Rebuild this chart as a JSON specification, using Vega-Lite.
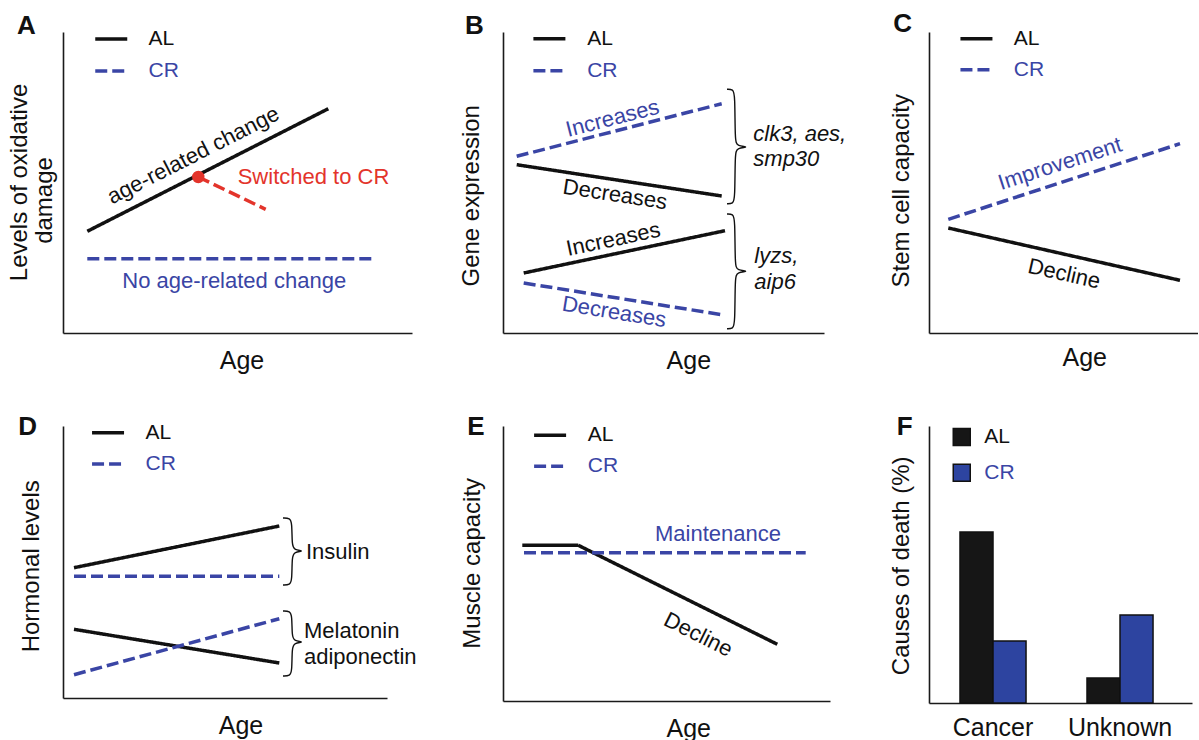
{
  "$schema": "https://vega.github.io/schema/vega-lite/v6.json",
  "padding": {"left": 7, "top": 11, "right": 0, "bottom": 0},
  "background": "white",
  "columns": 3,
  "bounds": "flush",
  "spacing": {"row": 93, "column": 60},
  "resolve": {
    "scale": {"color": "independent", "strokeDash": "independent"},
    "legend": {"color": "independent", "strokeDash": "independent"}
  },
  "config": {
    "font": "Liberation Sans",
    "view": {"stroke": null},
    "axis": {"grid": false, "ticks": false, "tickSize": 0, "labels": false, "domainColor": "#1a1a1a", "domainWidth": 1.6, "titleFontWeight": "normal", "titleColor": "#111111", "titleFont": "Liberation Sans"},
    "legend": {"labelFont": "Liberation Sans", "padding": 0}
  },
  "concat": [
    {
      "width": 380, "height": 301,
      "encoding": {
        "x": {"field": "x", "type": "quantitative", "scale": {"domain": [0, 349], "range": [0, 349], "nice": false, "zero": false},
              "axis": {"title": "Age", "titleFontSize": 25, "titleX": 178.5, "titleY": 35.7, "titleAlign": "center", "titleBaseline": "alphabetic", "titleAngle": 0}},
        "y": {"field": "y", "type": "quantitative", "scale": {"domain": [0, 301], "nice": false, "zero": false},
              "axis": {"title": "Levels of oxidative", "titleFontSize": 24, "titleX": -36.5, "titleY": 150, "titleAlign": "center", "titleBaseline": "alphabetic", "titleAngle": 270}}
      },
      "layer": [
        {
          "data": {"values": [
            {"diet": "AL", "seg": "a1", "x": 24.3, "y": 101.7}, {"diet": "AL", "seg": "a1", "x": 265.3, "y": 224.3},
            {"diet": "CR", "seg": "c1", "x": 24.3, "y": 74.3}, {"diet": "CR", "seg": "c1", "x": 308.7, "y": 74.3},
            {"diet": "Switched", "seg": "s1", "x": 135.3, "y": 156}, {"diet": "Switched", "seg": "s1", "x": 202.7, "y": 123.7}
          ]},
          "mark": {"type": "line", "strokeWidth": 3.5, "strokeCap": "butt"},
          "encoding": {
            "detail": {"field": "seg"},
            "color": {"field": "diet", "type": "nominal", "scale": {"domain": ["AL", "CR", "Switched"], "range": ["#111111", "#3a45a5", "#e3342b"]},
                      "legend": {"title": null, "orient": "none", "legendX": 30.25, "legendY": -3.5, "values": ["AL", "CR"], "symbolType": "stroke", "symbolSize": 1024, "symbolStrokeWidth": 3.5, "labelFontSize": 21, "labelOffset": 19.25, "rowPadding": 10, "clipHeight": 21, "labelColor": {"expr": "datum.value === 'CR' ? '#3a45a5' : '#111111'"}}},
            "strokeDash": {"field": "diet", "type": "nominal", "scale": {"domain": ["AL", "CR", "Switched"], "range": [[1, 0], [12, 5], [12, 5]]},
                      "legend": {"title": null, "orient": "none", "legendX": 30.25, "legendY": -3.5, "values": ["AL", "CR"], "symbolType": "stroke", "symbolSize": 1024, "symbolStrokeWidth": 3.5, "labelFontSize": 21, "labelOffset": 19.25, "rowPadding": 10, "clipHeight": 21, "labelColor": {"expr": "datum.value === 'CR' ? '#3a45a5' : '#111111'"}}}
          }
        },
        {
          "data": {"values": [{"event": "Switched to CR", "x": 135.3, "y": 156}]},
          "mark": {"type": "circle", "size": 154, "color": "#e3342b", "opacity": 1}
        },
        {
          "data": {"values": [{"label": "age-related change", "x": 130.3, "y": 177.7}]},
          "mark": {"type": "text", "fontSize": 22, "angle": 333, "align": "center", "baseline": "middle", "color": "#111111"},
          "encoding": {"text": {"field": "label"}}
        },
        {
          "data": {"values": [{"label": "Switched to CR", "x": 174.7, "y": 149.3}]},
          "mark": {"type": "text", "fontSize": 22, "align": "left", "baseline": "alphabetic", "color": "#e3342b"},
          "encoding": {"text": {"field": "label"}}
        },
        {
          "data": {"values": [{"label": "No age-related change", "x": 171.2, "y": 45.3}]},
          "mark": {"type": "text", "fontSize": 22, "align": "center", "baseline": "alphabetic", "color": "#3a45a5"},
          "encoding": {"text": {"field": "label"}}
        },
        {
          "data": {"values": [{"label": "damage", "x": -11.5, "y": 132.5}]},
          "mark": {"type": "text", "fontSize": 24, "angle": 270, "align": "center", "baseline": "alphabetic", "color": "#111111"},
          "encoding": {"text": {"field": "label"}}
        },
        {
          "data": {"values": [{"label": "A", "x": -46, "y": 299}]},
          "mark": {"type": "text", "fontSize": 26, "fontWeight": "bold", "align": "left", "baseline": "alphabetic", "color": "#111111"},
          "encoding": {"text": {"field": "label"}}
        }
      ]
    },
    {
      "width": 366, "height": 301,
      "encoding": {
        "x": {"field": "x", "type": "quantitative", "scale": {"domain": [0, 321], "range": [0, 321], "nice": false, "zero": false},
              "axis": {"title": "Age", "titleFontSize": 25, "titleX": 185.3, "titleY": 35, "titleAlign": "center", "titleBaseline": "alphabetic", "titleAngle": 0}},
        "y": {"field": "y", "type": "quantitative", "scale": {"domain": [0, 301], "nice": false, "zero": false},
              "axis": {"title": "Gene expression", "titleFontSize": 24, "titleX": -24.1, "titleY": 163.3, "titleAlign": "center", "titleBaseline": "alphabetic", "titleAngle": 270}}
      },
      "layer": [
        {
          "data": {"values": [
            {"diet": "CR", "seg": "c1", "x": 13.7, "y": 176.7}, {"diet": "CR", "seg": "c1", "x": 218.7, "y": 229.3},
            {"diet": "AL", "seg": "a1", "x": 13.7, "y": 168.3}, {"diet": "AL", "seg": "a1", "x": 218.7, "y": 137},
            {"diet": "AL", "seg": "a2", "x": 20.7, "y": 60}, {"diet": "AL", "seg": "a2", "x": 222, "y": 102.3},
            {"diet": "CR", "seg": "c2", "x": 20.7, "y": 50}, {"diet": "CR", "seg": "c2", "x": 218.7, "y": 18.3}
          ]},
          "mark": {"type": "line", "strokeWidth": 3.5, "strokeCap": "butt"},
          "encoding": {
            "detail": {"field": "seg"},
            "color": {"field": "diet", "type": "nominal", "scale": {"domain": ["AL", "CR"], "range": ["#111111", "#3a45a5"]},
                      "legend": {"title": null, "orient": "none", "legendX": 28.4, "legendY": -3.8, "values": ["AL", "CR"], "symbolType": "stroke", "symbolSize": 1024, "symbolStrokeWidth": 3.5, "labelFontSize": 21, "labelOffset": 19.8, "rowPadding": 10, "clipHeight": 21, "labelColor": {"expr": "datum.value === 'CR' ? '#3a45a5' : '#111111'"}}},
            "strokeDash": {"field": "diet", "type": "nominal", "scale": {"domain": ["AL", "CR"], "range": [[1, 0], [12, 5]]},
                      "legend": {"title": null, "orient": "none", "legendX": 28.4, "legendY": -3.8, "values": ["AL", "CR"], "symbolType": "stroke", "symbolSize": 1024, "symbolStrokeWidth": 3.5, "labelFontSize": 21, "labelOffset": 19.8, "rowPadding": 10, "clipHeight": 21, "labelColor": {"expr": "datum.value === 'CR' ? '#3a45a5' : '#111111'"}}}
          }
        },
        {
          "data": {"values": [
            {"brace": "upper", "i": 1, "x": 224, "y": 243.7}, {"brace": "upper", "i": 2, "x": 230, "y": 243.7}, {"brace": "upper", "i": 3, "x": 232, "y": 238.7},
            {"brace": "upper", "i": 4, "x": 232, "y": 192}, {"brace": "upper", "i": 5, "x": 234, "y": 187}, {"brace": "upper", "i": 6, "x": 247, "y": 186},
            {"brace": "upper", "i": 7, "x": 234, "y": 185}, {"brace": "upper", "i": 8, "x": 232, "y": 180}, {"brace": "upper", "i": 9, "x": 232, "y": 134.3},
            {"brace": "upper", "i": 10, "x": 230, "y": 129.3}, {"brace": "upper", "i": 11, "x": 224, "y": 129.3},
            {"brace": "lower", "i": 1, "x": 224, "y": 119}, {"brace": "lower", "i": 2, "x": 230, "y": 119}, {"brace": "lower", "i": 3, "x": 232, "y": 114},
            {"brace": "lower", "i": 4, "x": 232, "y": 67.7}, {"brace": "lower", "i": 5, "x": 234, "y": 62.7}, {"brace": "lower", "i": 6, "x": 247, "y": 61.7},
            {"brace": "lower", "i": 7, "x": 234, "y": 60.7}, {"brace": "lower", "i": 8, "x": 232, "y": 55.7}, {"brace": "lower", "i": 9, "x": 232, "y": 9.3},
            {"brace": "lower", "i": 10, "x": 230, "y": 4.3}, {"brace": "lower", "i": 11, "x": 224, "y": 4.3}
          ]},
          "mark": {"type": "line", "strokeWidth": 1.4, "color": "#111111", "interpolate": "basis"},
          "encoding": {"detail": {"field": "brace"}, "order": {"field": "i", "type": "quantitative"}}
        },
        {
          "data": {"values": [{"label": "Increases", "x": 109.5, "y": 214.7}]},
          "mark": {"type": "text", "fontSize": 22, "angle": 345.6, "align": "center", "baseline": "middle", "color": "#3a45a5"},
          "encoding": {"text": {"field": "label"}}
        },
        {
          "data": {"values": [{"label": "Decreases", "x": 112, "y": 138.5}]},
          "mark": {"type": "text", "fontSize": 22, "angle": 8.7, "align": "center", "baseline": "middle", "color": "#111111"},
          "encoding": {"text": {"field": "label"}}
        },
        {
          "data": {"values": [{"label": "Increases", "x": 110.3, "y": 93.7}]},
          "mark": {"type": "text", "fontSize": 22, "angle": 348, "align": "center", "baseline": "middle", "color": "#111111"},
          "encoding": {"text": {"field": "label"}}
        },
        {
          "data": {"values": [{"label": "Decreases", "x": 111.2, "y": 21}]},
          "mark": {"type": "text", "fontSize": 22, "angle": 9.2, "align": "center", "baseline": "middle", "color": "#3a45a5"},
          "encoding": {"text": {"field": "label"}}
        },
        {
          "data": {"values": [
            {"label": "clk3, aes,", "x": 250.3, "y": 192},
            {"label": "smp30", "x": 250.3, "y": 167},
            {"label": "lyzs,", "x": 251.3, "y": 70},
            {"label": "aip6", "x": 251.3, "y": 44}
          ]},
          "mark": {"type": "text", "fontSize": 22, "fontStyle": "italic", "align": "left", "baseline": "alphabetic", "color": "#111111"},
          "encoding": {"text": {"field": "label"}}
        },
        {
          "data": {"values": [{"label": "B", "x": -38, "y": 299.3}]},
          "mark": {"type": "text", "fontSize": 26, "fontWeight": "bold", "align": "left", "baseline": "alphabetic", "color": "#111111"},
          "encoding": {"text": {"field": "label"}}
        }
      ]
    },
    {
      "width": 269, "height": 301,
      "encoding": {
        "x": {"field": "x", "type": "quantitative", "scale": {"domain": [0, 269], "nice": false, "zero": false},
              "axis": {"title": "Age", "titleFontSize": 25, "titleX": 155.2, "titleY": 32, "titleAlign": "center", "titleBaseline": "alphabetic", "titleAngle": 0}},
        "y": {"field": "y", "type": "quantitative", "scale": {"domain": [0, 301], "nice": false, "zero": false},
              "axis": {"title": "Stem cell capacity", "titleFontSize": 24, "titleX": -20.1, "titleY": 158.3, "titleAlign": "center", "titleBaseline": "alphabetic", "titleAngle": 270}}
      },
      "layer": [
        {
          "data": {"values": [
            {"diet": "CR", "seg": "c1", "x": 19.3, "y": 113.7}, {"diet": "CR", "seg": "c1", "x": 251, "y": 189.3},
            {"diet": "AL", "seg": "a1", "x": 19.3, "y": 105}, {"diet": "AL", "seg": "a1", "x": 251, "y": 52.7}
          ]},
          "mark": {"type": "line", "strokeWidth": 3.5, "strokeCap": "butt"},
          "encoding": {
            "detail": {"field": "seg"},
            "color": {"field": "diet", "type": "nominal", "scale": {"domain": ["AL", "CR"], "range": ["#111111", "#3a45a5"]},
                      "legend": {"title": null, "orient": "none", "legendX": 29.45, "legendY": -3.8, "values": ["AL", "CR"], "symbolType": "stroke", "symbolSize": 1024, "symbolStrokeWidth": 3.5, "labelFontSize": 21, "labelOffset": 19.35, "rowPadding": 9, "clipHeight": 21, "labelColor": {"expr": "datum.value === 'CR' ? '#3a45a5' : '#111111'"}}},
            "strokeDash": {"field": "diet", "type": "nominal", "scale": {"domain": ["AL", "CR"], "range": [[1, 0], [12, 5]]},
                      "legend": {"title": null, "orient": "none", "legendX": 29.45, "legendY": -3.8, "values": ["AL", "CR"], "symbolType": "stroke", "symbolSize": 1024, "symbolStrokeWidth": 3.5, "labelFontSize": 21, "labelOffset": 19.35, "rowPadding": 9, "clipHeight": 21, "labelColor": {"expr": "datum.value === 'CR' ? '#3a45a5' : '#111111'"}}}
          }
        },
        {
          "data": {"values": [{"label": "Improvement", "x": 131, "y": 169.3}]},
          "mark": {"type": "text", "fontSize": 22, "angle": 342, "align": "center", "baseline": "middle", "color": "#3a45a5"},
          "encoding": {"text": {"field": "label"}}
        },
        {
          "data": {"values": [{"label": "Decline", "x": 135.2, "y": 59.3}]},
          "mark": {"type": "text", "fontSize": 22, "angle": 12.7, "align": "center", "baseline": "middle", "color": "#111111"},
          "encoding": {"text": {"field": "label"}}
        },
        {
          "data": {"values": [{"label": "C", "x": -35.7, "y": 301}]},
          "mark": {"type": "text", "fontSize": 26, "fontWeight": "bold", "align": "left", "baseline": "alphabetic", "color": "#111111"},
          "encoding": {"text": {"field": "label"}}
        }
      ]
    },
    {
      "width": 380, "height": 272,
      "encoding": {
        "x": {"field": "x", "type": "quantitative", "scale": {"domain": [0, 324], "range": [0, 324], "nice": false, "zero": false},
              "axis": {"title": "Age", "titleFontSize": 25, "titleX": 177.5, "titleY": 35.2, "titleAlign": "center", "titleBaseline": "alphabetic", "titleAngle": 0}},
        "y": {"field": "y", "type": "quantitative", "scale": {"domain": [0, 272], "nice": false, "zero": false},
              "axis": {"title": "Hormonal levels", "titleFontSize": 24, "titleX": -24.1, "titleY": 139.8, "titleAlign": "center", "titleBaseline": "alphabetic", "titleAngle": 270}}
      },
      "layer": [
        {
          "data": {"values": [
            {"diet": "AL", "seg": "a1", "x": 11, "y": 130.3}, {"diet": "AL", "seg": "a1", "x": 216.3, "y": 172},
            {"diet": "CR", "seg": "c1", "x": 11, "y": 121.7}, {"diet": "CR", "seg": "c1", "x": 216.3, "y": 121.7},
            {"diet": "AL", "seg": "a2", "x": 11, "y": 68.7}, {"diet": "AL", "seg": "a2", "x": 216.3, "y": 35},
            {"diet": "CR", "seg": "c2", "x": 11, "y": 23.3}, {"diet": "CR", "seg": "c2", "x": 216.3, "y": 79.3}
          ]},
          "mark": {"type": "line", "strokeWidth": 3.5, "strokeCap": "butt"},
          "encoding": {
            "detail": {"field": "seg"},
            "color": {"field": "diet", "type": "nominal", "scale": {"domain": ["AL", "CR"], "range": ["#111111", "#3a45a5"]},
                      "legend": {"title": null, "orient": "none", "legendX": 27.05, "legendY": -3.8, "values": ["AL", "CR"], "symbolType": "stroke", "symbolSize": 1024, "symbolStrokeWidth": 3.5, "labelFontSize": 21, "labelOffset": 19.45, "rowPadding": 9.3, "clipHeight": 21, "labelColor": {"expr": "datum.value === 'CR' ? '#3a45a5' : '#111111'"}}},
            "strokeDash": {"field": "diet", "type": "nominal", "scale": {"domain": ["AL", "CR"], "range": [[1, 0], [12, 5]]},
                      "legend": {"title": null, "orient": "none", "legendX": 27.05, "legendY": -3.8, "values": ["AL", "CR"], "symbolType": "stroke", "symbolSize": 1024, "symbolStrokeWidth": 3.5, "labelFontSize": 21, "labelOffset": 19.45, "rowPadding": 9.3, "clipHeight": 21, "labelColor": {"expr": "datum.value === 'CR' ? '#3a45a5' : '#111111'"}}}
          }
        },
        {
          "data": {"values": [
            {"brace": "insulin", "i": 1, "x": 220, "y": 180}, {"brace": "insulin", "i": 2, "x": 227, "y": 180}, {"brace": "insulin", "i": 3, "x": 229, "y": 175},
            {"brace": "insulin", "i": 4, "x": 229, "y": 153}, {"brace": "insulin", "i": 5, "x": 231, "y": 148}, {"brace": "insulin", "i": 6, "x": 242, "y": 147},
            {"brace": "insulin", "i": 7, "x": 231, "y": 146}, {"brace": "insulin", "i": 8, "x": 229, "y": 141}, {"brace": "insulin", "i": 9, "x": 229, "y": 118},
            {"brace": "insulin", "i": 10, "x": 227, "y": 113}, {"brace": "insulin", "i": 11, "x": 220, "y": 113},
            {"brace": "melatonin", "i": 1, "x": 220, "y": 87}, {"brace": "melatonin", "i": 2, "x": 227, "y": 87}, {"brace": "melatonin", "i": 3, "x": 229, "y": 82},
            {"brace": "melatonin", "i": 4, "x": 229, "y": 62}, {"brace": "melatonin", "i": 5, "x": 231, "y": 57}, {"brace": "melatonin", "i": 6, "x": 242, "y": 56},
            {"brace": "melatonin", "i": 7, "x": 231, "y": 55}, {"brace": "melatonin", "i": 8, "x": 229, "y": 50}, {"brace": "melatonin", "i": 9, "x": 229, "y": 27},
            {"brace": "melatonin", "i": 10, "x": 227, "y": 22}, {"brace": "melatonin", "i": 11, "x": 220, "y": 22}
          ]},
          "mark": {"type": "line", "strokeWidth": 1.4, "color": "#111111", "interpolate": "basis"},
          "encoding": {"detail": {"field": "brace"}, "order": {"field": "i", "type": "quantitative"}}
        },
        {
          "data": {"values": [
            {"label": "Insulin", "x": 243, "y": 138.6},
            {"label": "Melatonin", "x": 241, "y": 59.6},
            {"label": "adiponectin", "x": 241, "y": 33.6}
          ]},
          "mark": {"type": "text", "fontSize": 22, "align": "left", "baseline": "alphabetic", "color": "#111111"},
          "encoding": {"text": {"field": "label"}}
        },
        {
          "data": {"values": [{"label": "D", "x": -44.7, "y": 262.7}]},
          "mark": {"type": "text", "fontSize": 26, "fontWeight": "bold", "align": "left", "baseline": "alphabetic", "color": "#111111"},
          "encoding": {"text": {"field": "label"}}
        }
      ]
    },
    {
      "width": 366, "height": 275,
      "encoding": {
        "x": {"field": "x", "type": "quantitative", "scale": {"domain": [0, 327], "range": [0, 327], "nice": false, "zero": false},
              "axis": {"title": "Age", "titleFontSize": 25, "titleX": 185.2, "titleY": 35.6, "titleAlign": "center", "titleBaseline": "alphabetic", "titleAngle": 0}},
        "y": {"field": "y", "type": "quantitative", "scale": {"domain": [0, 275], "nice": false, "zero": false},
              "axis": {"title": "Muscle capacity", "titleFontSize": 24, "titleX": -23.5, "titleY": 136.8, "titleAlign": "center", "titleBaseline": "alphabetic", "titleAngle": 270}}
      },
      "layer": [
        {
          "data": {"values": [
            {"diet": "AL", "seg": "a1", "x": 19.3, "y": 155.7}, {"diet": "AL", "seg": "a1", "x": 75.3, "y": 155.7}, {"diet": "AL", "seg": "a1", "x": 274.3, "y": 56.7},
            {"diet": "CR", "seg": "c1", "x": 21, "y": 148.3}, {"diet": "CR", "seg": "c1", "x": 302.7, "y": 148.3}
          ]},
          "mark": {"type": "line", "strokeWidth": 3.5, "strokeCap": "butt"},
          "encoding": {
            "detail": {"field": "seg"},
            "color": {"field": "diet", "type": "nominal", "scale": {"domain": ["AL", "CR"], "range": ["#111111", "#3a45a5"]},
                      "legend": {"title": null, "orient": "none", "legendX": 29.1, "legendY": -1.2, "values": ["AL", "CR"], "symbolType": "stroke", "symbolSize": 1024, "symbolStrokeWidth": 3.5, "labelFontSize": 21, "labelOffset": 19.7, "rowPadding": 9, "clipHeight": 21, "labelColor": {"expr": "datum.value === 'CR' ? '#3a45a5' : '#111111'"}}},
            "strokeDash": {"field": "diet", "type": "nominal", "scale": {"domain": ["AL", "CR"], "range": [[1, 0], [12, 5]]},
                      "legend": {"title": null, "orient": "none", "legendX": 29.1, "legendY": -1.2, "values": ["AL", "CR"], "symbolType": "stroke", "symbolSize": 1024, "symbolStrokeWidth": 3.5, "labelFontSize": 21, "labelOffset": 19.7, "rowPadding": 9, "clipHeight": 21, "labelColor": {"expr": "datum.value === 'CR' ? '#3a45a5' : '#111111'"}}}
          }
        },
        {
          "data": {"values": [{"label": "Maintenance", "x": 215, "y": 160}]},
          "mark": {"type": "text", "fontSize": 22, "align": "center", "baseline": "alphabetic", "color": "#3a45a5"},
          "encoding": {"text": {"field": "label"}}
        },
        {
          "data": {"values": [{"label": "Decline", "x": 195.2, "y": 66.5}]},
          "mark": {"type": "text", "fontSize": 22, "angle": 26.5, "align": "center", "baseline": "middle", "color": "#111111"},
          "encoding": {"text": {"field": "label"}}
        },
        {
          "data": {"values": [{"label": "E", "x": -35.7, "y": 265.7}]},
          "mark": {"type": "text", "fontSize": 26, "fontWeight": "bold", "align": "left", "baseline": "alphabetic", "color": "#111111"},
          "encoding": {"text": {"field": "label"}}
        }
      ]
    },
    {
      "width": 263, "height": 277,
      "encoding": {
        "y": {"field": "pct", "type": "quantitative", "scale": {"domain": [0, 277], "nice": false, "zero": false},
              "axis": {"title": "Causes of death (%)", "titleFontSize": 24, "titleX": -20.1, "titleY": 139.3, "titleAlign": "center", "titleBaseline": "alphabetic", "titleAngle": 270}}
      },
      "layer": [
        {
          "data": {"values": [
            {"cause": "Cancer", "diet": "AL", "pct": 171},
            {"cause": "Cancer", "diet": "CR", "pct": 62},
            {"cause": "Unknown", "diet": "AL", "pct": 25},
            {"cause": "Unknown", "diet": "CR", "pct": 88}
          ]},
          "mark": {"type": "bar", "stroke": "#111111", "strokeWidth": 1.5, "opacity": 1},
          "encoding": {
            "x": {"field": "cause", "type": "nominal", "sort": ["Cancer", "Unknown"],
                  "scale": {"paddingInner": 0.48, "paddingOuter": 0.2754, "align": 0.443},
                  "axis": {"title": null, "labels": true, "labelAngle": 0, "labelFontSize": 25, "labelColor": "#111111", "labelBaseline": "alphabetic", "labelPadding": 32}},
            "xOffset": {"field": "diet", "type": "nominal", "sort": ["AL", "CR"], "scale": {"paddingInner": 0, "paddingOuter": 0}},
            "color": {"field": "diet", "type": "nominal", "scale": {"domain": ["AL", "CR"], "range": ["#161616", "#2d44a0"]},
                      "legend": {"title": null, "orient": "none", "legendX": 22.25, "legendY": 0.5, "symbolType": "square", "symbolSize": 289, "symbolStrokeColor": "#111111", "symbolStrokeWidth": 1.5, "labelFontSize": 21, "labelOffset": 12, "rowPadding": 13.7, "clipHeight": 21, "labelColor": {"expr": "datum.value === 'CR' ? '#3a45a5' : '#111111'"}}}
          }
        },
        {
          "data": {"values": [{"label": "F", "xpos": -32.3, "pct": 267.7}]},
          "mark": {"type": "text", "fontSize": 26, "fontWeight": "bold", "align": "left", "baseline": "alphabetic", "color": "#111111"},
          "encoding": {
            "x": {"field": "xpos", "type": "quantitative", "scale": {"domain": [0, 263], "nice": false, "zero": false}, "axis": null},
            "text": {"field": "label"}
          }
        }
      ],
      "resolve": {"scale": {"x": "independent"}}
    }
  ]
}
